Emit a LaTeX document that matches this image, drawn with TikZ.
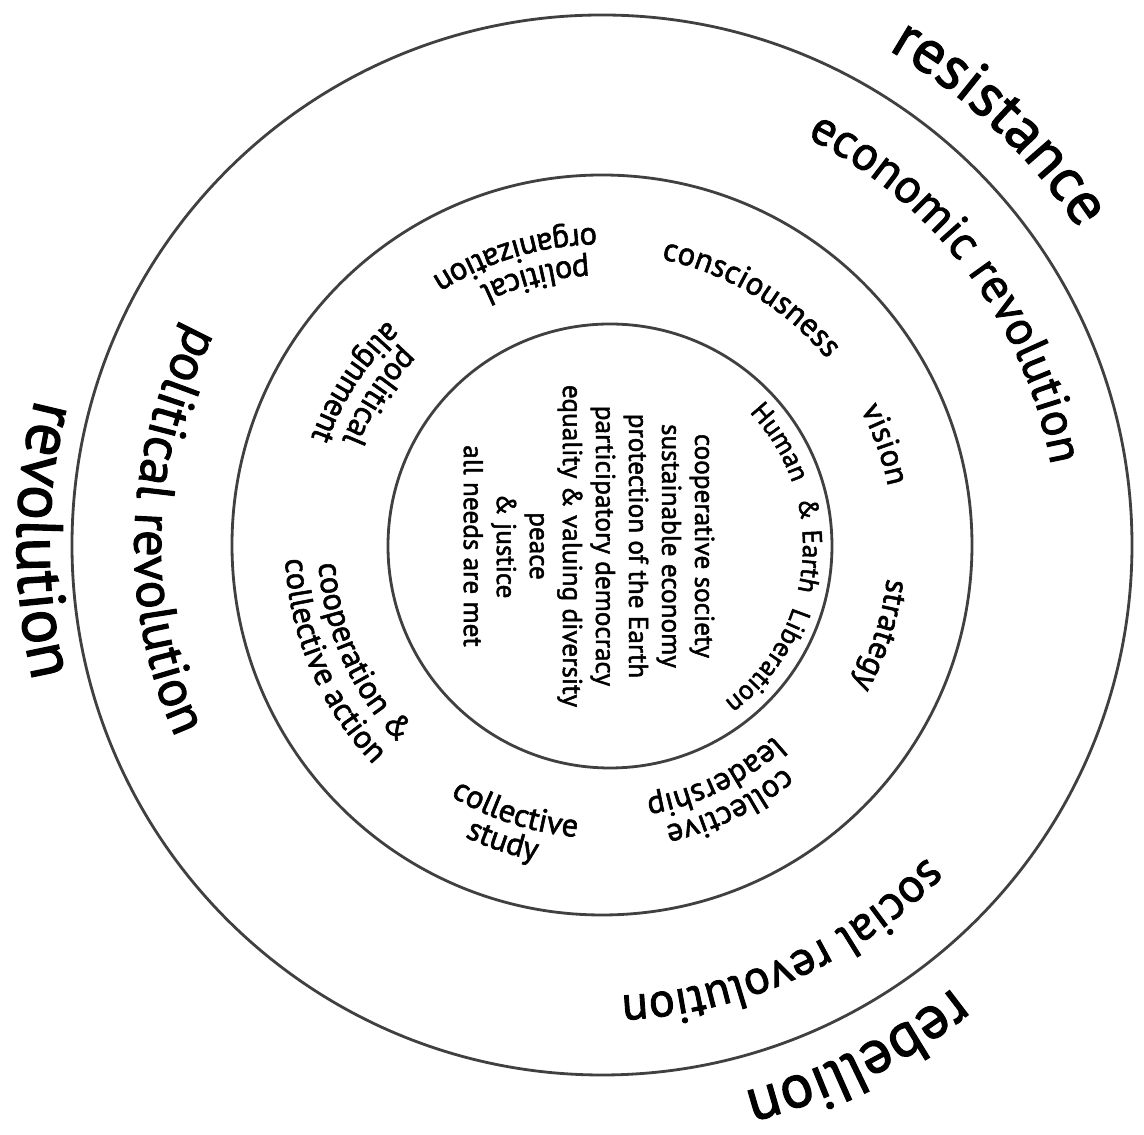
\documentclass[tikz,border=0pt]{standalone}
\usepackage{fontspec}
\setmainfont{PT Sans}[FakeBold=1.8]
\usetikzlibrary{decorations.text}

\newcommand\bigfont{\fontsize{35}{35}\selectfont}
\newcommand\ringfont{\fontsize{27.5}{27.5}\selectfont}
\newcommand\bandfont{\fontsize{18.5}{18.5}\selectfont}
\newcommand\corefont{\fontsize{15.5}{18.8}\selectfont}

\tikzset{
  ring/.style={line width=1.6pt, draw=black!75},
  arctext/.style={decorate, decoration={text along path, text align=center, text={#1}}}
}

\begin{document}
\begin{tikzpicture}
    \useasboundingbox (-12.04,-11.8) rectangle (10.84,10.9);
    % rings
    \draw [ring] (0,0) circle (10.6);
    \draw [ring] (0,0) circle (7.4);
    \draw [ring] (0.16,-0.02) circle (4.44);
    % outside the rings
    \path [arctext={|\bigfont|resistance}] (71.7:11.44) arc[start angle=71.7, delta angle=-50, radius=11.44];
    \path [arctext={|\fontsize{37}{37}\selectfont|revolution}] (154.5:11.7) arc[start angle=154.5, delta angle=50, radius=11.7];
    \path [arctext={|\bigfont|rebellion}] (-38.5:11.3) arc[start angle=-38.5, delta angle=-50, radius=11.3];
    % outer band
    \path [arctext={|\ringfont|economic revolution}] (76.7:9.12) arc[start angle=76.7, delta angle=-80, radius=9.12];
    \path [arctext={|\fontsize{30}{30}\selectfont|political revolution}] (133:9.35) arc[start angle=133, delta angle=90, radius=9.35];
    \path [arctext={|\ringfont|social revolution}] (-25.7:9.02) arc[start angle=-25.7, delta angle=-80, radius=9.02];
    % middle band
    \path [arctext={|\bandfont|consciousness}] (98.9:5.84) arc[start angle=98.9, delta angle=-80, radius=5.84];
    \path [arctext={|\bandfont|vision}] (39.6:5.84) arc[start angle=39.6, delta angle=-40, radius=5.84];
    \path [arctext={|\bandfont|strategy}] (2.1:5.74) arc[start angle=2.1, delta angle=-40, radius=5.74];
    \path [arctext={|\bandfont|collective}] (-39:5.76) arc[start angle=-39, delta angle=-50, radius=5.76];
    \path [arctext={|\bandfont|leadership}] (-39:5.14) arc[start angle=-39, delta angle=-50, radius=5.14];
    \path [arctext={|\bandfont|collective}] (-133:5.86) arc[start angle=-133, delta angle=50, radius=5.86];
    \path [arctext={|\bandfont|study}] (-123.5:6.45) arc[start angle=-123.5, delta angle=30, radius=6.45];
    \path [arctext={|\bandfont|cooperation {\&}}] (174:5.68) arc[start angle=174, delta angle=60, radius=5.68];
    \path [arctext={|\bandfont|collective action}] (173.2:6.34) arc[start angle=173.2, delta angle=60, radius=6.34];
    \path [arctext={|\bandfont|political}] (121.5:5.6) arc[start angle=121.5, delta angle=50, radius=5.6];
    \path [arctext={|\bandfont|alignment}] (121.7:6.2) arc[start angle=121.7, delta angle=50, radius=6.2];
    \path [arctext={|\bandfont|political}] (79:5.72) arc[start angle=79, delta angle=50, radius=5.72];
    \path [arctext={|\bandfont|organization}] (76.7:6.34) arc[start angle=76.7, delta angle=60, radius=6.34];
    % inner circle
    \begin{scope}[shift={(0.16,-0.02)}]
    \path [arctext={|\corefont|Human}] (46.4:3.86) arc[start angle=46.4, delta angle=-30, radius=3.86];
    \path [arctext={|\corefont|{\&}}] (15.6:3.86) arc[start angle=15.6, delta angle=-10, radius=3.86];
    \path [arctext={|\corefont|Earth}] (8.6:3.86) arc[start angle=8.6, delta angle=-26, radius=3.86];
    \path [arctext={|\corefont|Liberation}] (-14:3.86) arc[start angle=-14, delta angle=-44, radius=3.86];
    \end{scope}
    \node [rotate=-90, align=center, font=\corefont] (core) at (-0.26,-0.02)
      {cooperative society\\sustainable economy\\protection of the Earth\\participatory democracy\\equality \& valuing diversity\\peace\\\& justice\\all needs are met};
\end{tikzpicture}
\end{document}
